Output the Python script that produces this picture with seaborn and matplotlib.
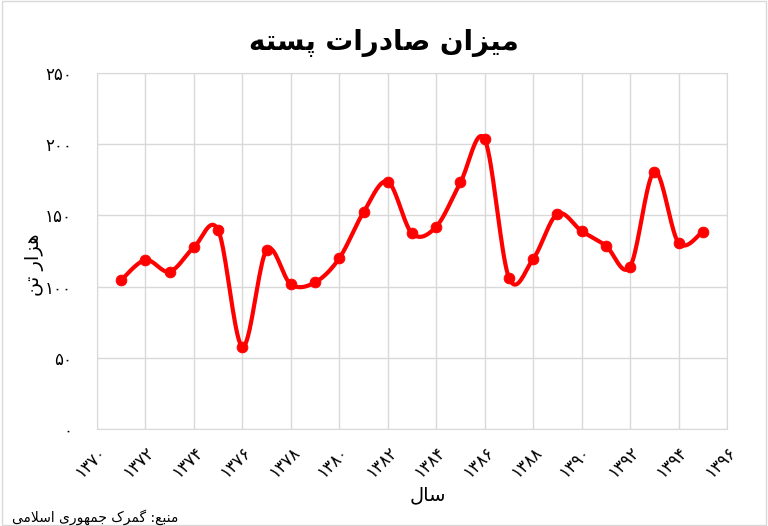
"""
Pistachio export chart (Persian labels)
"""

import numpy as np
import pandas as pd
import matplotlib
matplotlib.use("Agg")
import matplotlib.pyplot as plt
from matplotlib.patches import Rectangle
import seaborn as sns

# data (thousand tons)
years = list(range(1371, 1396))
exports = [104.6, 118.7, 110.5, 127.6, 139.7, 57.8, 125.7, 101.6, 103.0, 119.9,
           152.2, 173.7, 137.4, 142.1, 173.2, 203.4, 106.3, 119.4, 151.0, 139.0,
           128.7, 114.0, 180.7, 130.8, 138.6]

x_ticks = list(range(1370, 1397, 2))
x_labels = ['۱۳۷۰', '۱۳۷۲', '۱۳۷۴', '۱۳۷۶', '۱۳۷۸', '۱۳۸۰', '۱۳۸۲',
            '۱۳۸۴', '۱۳۸۶', '۱۳۸۸', '۱۳۹۰', '۱۳۹۲', '۱۳۹۴', '۱۳۹۶']
y_ticks = [0, 50, 100, 150, 200, 250]
y_labels = ['۰', '۵۰', '۱۰۰', '۱۵۰', '۲۰۰', '۲۵۰']

title = 'میزان صادرات پسته'
x_title = 'سال'
y_title = 'هزار تن'
source = 'منبع: گمرک جمهوری اسلامی'

# matplotlib has no arabic shaping, so map letters to presentation forms
# (isolated, final, initial, medial)
FORMS = {
    'ا': ('\uFE8D', '\uFE8E', None, None),
    'ب': ('\uFE8F', '\uFE90', '\uFE91', '\uFE92'),
    'ت': ('\uFE95', '\uFE96', '\uFE97', '\uFE98'),
    'ج': ('\uFE9D', '\uFE9E', '\uFE9F', '\uFEA0'),
    'د': ('\uFEA9', '\uFEAA', None, None),
    'ر': ('\uFEAD', '\uFEAE', None, None),
    'ز': ('\uFEAF', '\uFEB0', None, None),
    'س': ('\uFEB1', '\uFEB2', '\uFEB3', '\uFEB4'),
    'ص': ('\uFEB9', '\uFEBA', '\uFEBB', '\uFEBC'),
    'ع': ('\uFEC9', '\uFECA', '\uFECB', '\uFECC'),
    'ل': ('\uFEDD', '\uFEDE', '\uFEDF', '\uFEE0'),
    'م': ('\uFEE1', '\uFEE2', '\uFEE3', '\uFEE4'),
    'ن': ('\uFEE5', '\uFEE6', '\uFEE7', '\uFEE8'),
    'ه': ('\uFEE9', '\uFEEA', '\uFEEB', '\uFEEC'),
    'و': ('\uFEED', '\uFEEE', None, None),
    'پ': ('\uFB56', '\uFB57', '\uFB58', '\uFB59'),
    'ک': ('\uFB8E', '\uFB8F', '\uFB90', '\uFB91'),
    'گ': ('\uFB92', '\uFB93', '\uFB94', '\uFB95'),
    'ی': ('\uFBFC', '\uFBFD', '\uFBFE', '\uFBFF'),
}


def joins_left(c):
    return c in FORMS and FORMS[c][2] is not None


def rtl(text):
    out = []
    i = 0
    while i < len(text):
        c = text[i]
        prev = text[i - 1] if i > 0 else ''
        nxt = text[i + 1] if i + 1 < len(text) else ''
        if c == 'ل' and nxt == 'ا':
            out.append('\uFEFC' if joins_left(prev) else '\uFEFB')
            i += 2
            continue
        if c in FORMS:
            iso, fin, ini, med = FORMS[c]
            p = joins_left(prev)
            n = ini is not None and nxt in FORMS
            if p and n:
                out.append(med)
            elif p:
                out.append(fin)
            elif n:
                out.append(ini)
            else:
                out.append(iso)
        else:
            out.append(c)
        i += 1
    return ''.join(reversed(out))


def smooth(xs, ys, steps=20):
    """catmull-rom curve through the points, like excel's smoothed line"""
    pts = np.column_stack([xs, ys]).astype(float)
    pts = np.vstack([pts[0], pts, pts[-1]])
    t = np.linspace(0, 1, steps, endpoint=False)[:, None]
    segs = []
    for k in range(1, len(pts) - 2):
        p0, p1, p2, p3 = pts[k - 1], pts[k], pts[k + 1], pts[k + 2]
        segs.append(0.5 * ((2 * p1) + (-p0 + p2) * t
                           + (2 * p0 - 5 * p1 + 4 * p2 - p3) * t ** 2
                           + (-p0 + 3 * p1 - 3 * p2 + p3) * t ** 3))
    segs.append(pts[-2][None, :])
    return np.vstack(segs)


sns.set_style('white')
plt.rcParams['font.family'] = ['DejaVu Sans']
plt.rcParams['text.color'] = 'black'
plt.rcParams['xtick.color'] = 'black'
plt.rcParams['ytick.color'] = 'black'

df = pd.DataFrame({'year': years, 'value': exports})
curve = smooth(df['year'], df['value'])
curve_df = pd.DataFrame({'year': curve[:, 0], 'value': curve[:, 1]})

fig = plt.figure(figsize=(7.68, 5.26), dpi=100)
ax = fig.add_axes([0.1263, 0.1844, 0.8203, 0.6768])

sns.lineplot(data=curve_df, x='year', y='value', sort=False, estimator=None,
             color='#ff0000', linewidth=3, ax=ax)
sns.scatterplot(data=df, x='year', y='value', color='#ff0000', s=60,
                edgecolor='#ff0000', zorder=3, ax=ax)

ax.set_xlim(1370, 1396)
ax.set_ylim(0, 250)
ax.set_xticks(x_ticks)
ax.set_xticklabels(x_labels, rotation=45, ha='right', rotation_mode='anchor',
                   fontsize=12)
ax.set_yticks(y_ticks)
ax.set_yticklabels(y_labels, fontsize=12)
ax.tick_params(axis='y', length=0, pad=18)
ax.tick_params(axis='x', length=0, pad=10)
ax.grid(True, color='#d9d9d9', linewidth=1)
for s in ax.spines.values():
    s.set_color('#d9d9d9')
ax.set_xlabel('')
ax.set_ylabel('')

fig.text(0.5, 1 - 43 / 526, rtl(title), ha='center', va='center',
         fontsize=20, fontweight='bold')
fig.text(428 / 768, 1 - 495 / 526, rtl(x_title), ha='center', va='center',
         fontsize=14)
fig.text(35 / 768, 1 - 265 / 526, rtl(y_title), ha='center', va='center',
         fontsize=14, rotation=90)
fig.text(12 / 768, 1 - 517 / 526, rtl(source), ha='left', va='center',
         fontsize=10)

fig.patches.append(Rectangle((0.002, 0.002), 0.996, 0.996,
                             transform=fig.transFigure, fill=False,
                             edgecolor='#d9d9d9', linewidth=1))

fig.savefig('out.png', dpi=100)
